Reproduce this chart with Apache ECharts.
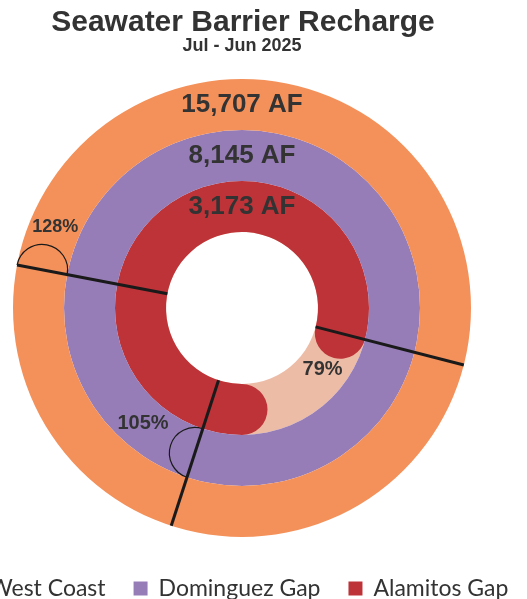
<!DOCTYPE html>
<html><head><meta charset="utf-8">
<script src="https://cdn.jsdelivr.net/npm/echarts@6/dist/echarts.min.js"></script>
<style>html,body{margin:0;padding:0;background:#fff}#c{width:527px;height:599px}</style>
</head><body><div id="c"></div>
<script>
// ---- data (inner ring -> outer ring) ----
const categories = ['Alamitos Gap', 'Dominguez Gap', 'West Coast'];
const percentOfTarget = [79, 105, 128];
const rechargeAF = [3173, 8145, 15707];
const legendOrder = ['West Coast', 'Dominguez Gap', 'Alamitos Gap'];
const titleText = 'Seawater Barrier Recharge';
const subtitleText = 'Jul - Jun 2025';

// ---- styles ----
const COLORS = { 'West Coast': '#F4915A', 'Dominguez Gap': '#967DB8', 'Alamitos Gap': '#BE3338' };
const TRACK = '#EDBCA7';
const TEXT = '#333333';
const FONT = '"Liberation Sans", Arial, sans-serif';
const LABEL_SHIFT = [6.4, 6.25, 3.5];   // angular offset (in % of circle) of % labels past the end line
const PCT_FONT = [20, 20, 18];

const chart = echarts.init(document.getElementById('c'), null, { renderer: 'canvas' });

const ringSeries = categories.map((name, idx) => ({
  type: 'bar', coordinateSystem: 'polar', name,
  data: categories.map((c, i) => i === idx ? Math.min(percentOfTarget[i], 100) : null),
  itemStyle: { color: COLORS[name] },
  roundCap: percentOfTarget[idx] < 100,
  barGap: '-100%', barCategoryGap: '0%', z: 3, silent: true
}));

const trackSeries = {
  type: 'bar', coordinateSystem: 'polar', name: 'track',
  data: categories.map((c, i) => percentOfTarget[i] < 100 ? 100 : null),
  itemStyle: { color: TRACK },
  barGap: '-100%', barCategoryGap: '0%', z: 2, silent: true
};

const overlaySeries = {
  type: 'custom', coordinateSystem: 'polar', name: 'overlay', z: 10, silent: true,
  data: categories.map((c, i) => [i, percentOfTarget[i] % 100, percentOfTarget[i], rechargeAF[i]]),
  renderItem(params, api) {
    const cs = params.coordSys;
    const cx = cs.cx, cy = cs.cy, r0 = cs.r0, r = cs.r;
    const i = api.value(0), endV = api.value(1), pct = api.value(2), af = api.value(3);
    const bw = (r - r0) / categories.length;
    const inner = r0 + i * bw, mid = inner + bw / 2;
    const dirOf = v => {
      const p = api.coord([i, v]);
      const dx = p[0] - cx, dy = p[1] - cy, L = Math.hypot(dx, dy);
      return [dx / L, dy / L];
    };
    const d = dirOf(endV);
    const children = [];
    children.push({ type: 'line', shape: { x1: cx + d[0] * r0, y1: cy + d[1] * r0, x2: cx + d[0] * r, y2: cy + d[1] * r },
      style: { stroke: '#1a1a1a', lineWidth: 3 } });
    if (pct > 100) {
      const th = Math.atan2(d[1], d[0]);
      children.push({ type: 'arc', shape: { cx: cx + d[0] * mid, cy: cy + d[1] * mid, r: bw / 2, startAngle: th, endAngle: th + Math.PI, clockwise: true },
        style: { stroke: '#1a1a1a', lineWidth: 1.2, fill: null } });
    }
    const lp = dirOf(endV + LABEL_SHIFT[i]);
    children.push({ type: 'text', x: cx + lp[0] * mid, y: cy + lp[1] * mid,
      style: { text: pct + '%', fill: TEXT, font: 'bold ' + PCT_FONT[i] + 'px ' + FONT, align: 'center', verticalAlign: 'middle' } });
    const tp = dirOf(50);
    children.push({ type: 'text', x: cx + tp[0] * mid, y: cy + tp[1] * mid,
      style: { text: af.toLocaleString('en-US') + ' AF', fill: TEXT, font: 'bold 26px ' + FONT, align: 'center', verticalAlign: 'middle' } });
    return { type: 'group', children };
  }
};

chart.setOption({
  animation: false,
  backgroundColor: '#ffffff',
  graphic: [
    { type: 'text', x: 243, y: 23, style: { text: titleText, fill: TEXT, font: 'bold 30px ' + FONT, align: 'center', verticalAlign: 'middle' } },
    { type: 'text', x: 242, y: 46, style: { text: subtitleText, fill: TEXT, font: 'bold 18px ' + FONT, align: 'center', verticalAlign: 'middle' } }
  ],
  polar: { center: [242, 308], radius: [76, 229] },
  angleAxis: { type: 'value', min: 0, max: 100, startAngle: 270, clockwise: true, show: false },
  radiusAxis: { type: 'category', data: categories, show: false },
  legend: {
    data: legendOrder, left: -36, top: 577, width: 900, padding: 0,
    itemWidth: 14, itemHeight: 14, itemGap: 28, icon: 'rect', selectedMode: false,
    textStyle: { fontFamily: 'Lato', fontSize: 23, color: '#333333', padding: [0, 0, 0, 6] }
  },
  series: [trackSeries, ...ringSeries, overlaySeries]
});
</script></body></html>
